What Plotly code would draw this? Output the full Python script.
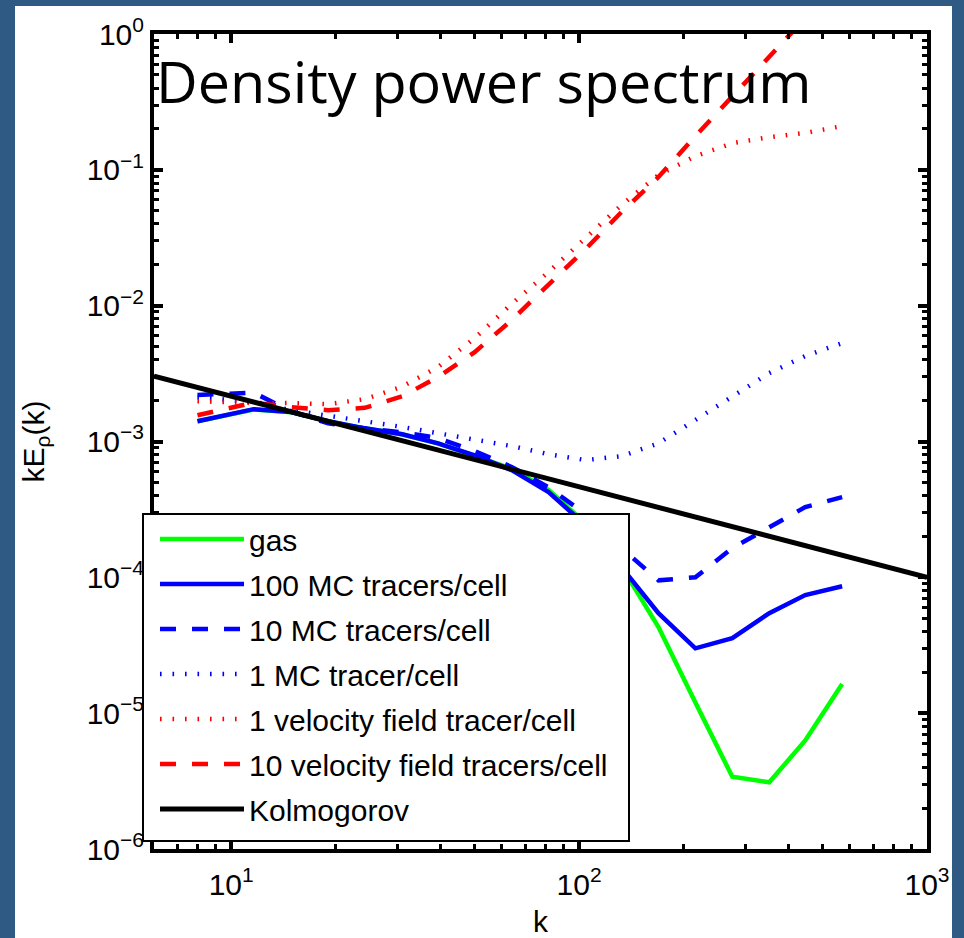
import plotly.graph_objects as go

# ---------------- data ----------------
k = [8.0, 11.6, 14.9, 19.0, 24.2, 31.0, 39.3, 50.1, 64.0, 81.7, 104.4,
     132.4, 169.1, 215.9, 275.7, 352.1, 446.7, 570.3]

gas = [1.41e-3, 1.72e-3, 1.64e-3, 1.41e-3, 1.25e-3, 1.13e-3, 9.7e-4, 7.9e-4,
       6.3e-4, 4.4e-4, 2.5e-4, 1.2e-4, 4.3e-5, 1.2e-5, 3.4e-6, 3.1e-6,
       6.3e-6, 1.64e-5]

mc100 = [1.41e-3, 1.73e-3, 1.65e-3, 1.41e-3, 1.25e-3, 1.13e-3, 9.7e-4, 7.9e-4,
         6.15e-4, 4.24e-4, 2.42e-4, 1.19e-4, 5.45e-5, 3.0e-5, 3.57e-5, 5.45e-5,
         7.4e-5, 8.6e-5]

mc10 = [2.2e-3, 2.29e-3, 1.66e-3, 1.36e-3, 1.25e-3, 1.17e-3, 1.06e-3, 8.5e-4,
        6.5e-4, 4.6e-4, 2.92e-4, 1.64e-4, 9.5e-5, 1.0e-4, 1.64e-4, 2.34e-4,
        3.29e-4, 3.9e-4]

mc1 = [2.12e-3, 1.95e-3, 1.70e-3, 1.56e-3, 1.41e-3, 1.28e-3, 1.15e-3, 1.04e-3,
       9.25e-4, 8.07e-4, 7.3e-4, 7.8e-4, 9.7e-4, 1.44e-3, 2.16e-3, 3.19e-3,
       4.26e-3, 5.3e-3]

vel1 = [1.98e-3, 1.92e-3, 1.92e-3, 1.88e-3, 2.05e-3, 2.54e-3, 3.53e-3, 5.77e-3,
        1.03e-2, 1.77e-2, 3.15e-2, 5.51e-2, 9.16e-2, 0.126, 0.157, 0.174,
        0.187, 0.210]

vel10 = [1.56e-3, 1.93e-3, 1.79e-3, 1.70e-3, 1.77e-3, 2.15e-3, 2.98e-3, 4.55e-3,
         7.83e-3, 1.42e-2, 2.61e-2, 4.89e-2, 8.85e-2, 0.177, 0.344, 0.677,
         1.31, None]

k_kolmogorov = [6.0, 1000.0]
E_kolmogorov = [3.03e-3, 1.0e-4]

series_names = ["gas", "100 MC tracers/cell", "10 MC tracers/cell",
                "1 MC tracer/cell", "1 velocity field tracer/cell",
                "10 velocity field tracers/cell", "Kolmogorov"]

x_tickvals = [10, 100, 1000]
x_ticktext = ["10<sup>1</sup>", "10<sup>2</sup>", "10<sup>3</sup>"]
y_tickvals = [1e-6, 1e-5, 1e-4, 1e-3, 1e-2, 1e-1, 1]
y_ticktext = ["10<sup>\u22126</sup>", "10<sup>\u22125</sup>", "10<sup>\u22124</sup>",
              "10<sup>\u22123</sup>", "10<sup>\u22122</sup>", "10<sup>\u22121</sup>",
              "10<sup>0</sup>"]

title_text = "Density power spectrum"

# ---------------- styling ----------------
GREEN = "#00FF00"
BLUE = "#0000FF"
RED = "#FF0000"
BG_BLUE = "#2F5A83"
DASH = "16px,16px"
DOT = "1.6px,10.9px"
FONT = "Liberation Sans, Arial, Helvetica, sans-serif"
FS = 30

styles = [
    dict(color=GREEN, width=4.5, dash="solid"),
    dict(color=BLUE, width=4.5, dash="solid"),
    dict(color=BLUE, width=4.5, dash=DASH),
    dict(color=BLUE, width=4.5, dash=DOT),
    dict(color=RED, width=4.5, dash=DOT),
    dict(color=RED, width=4.5, dash=DASH),
    dict(color="black", width=5, dash="solid"),
]
ys = [gas, mc100, mc10, mc1, vel1, vel10]

fig = go.Figure()
for i, (name, y) in enumerate(zip(series_names[:-1], ys)):
    fig.add_trace(go.Scatter(x=k, y=y, mode="lines", name=name,
                             line=styles[i], legendgroup=f"g{i}",
                             connectgaps=False))
fig.add_trace(go.Scatter(x=k_kolmogorov, y=E_kolmogorov, mode="lines",
                         name=series_names[-1], line=styles[-1],
                         legendgroup="g6"))

# plot-area geometry (px)
L, R, T, B = 154, 37, 34, 89
W, H = 964, 938
pw, ph = W - L - R, H - T - B


def px(xp):
    return (xp - L) / pw


def py(yp):
    return (H - B - yp) / ph


minor_x = [m * 10 ** e for e in range(0, 3) for m in range(2, 10)]
minor_y = [m * 10.0 ** e for e in range(-6, 0) for m in range(2, 10)]

axis_common = dict(
    type="log", showgrid=False, zeroline=False, showline=True,
    linecolor="black", linewidth=4, mirror="ticks", ticks="inside",
    ticklen=9, tickwidth=4, tickcolor="black",
    tickfont=dict(family=FONT, size=FS, color="black"),
    tickmode="array",
)

fig.update_xaxes(**axis_common, range=[0.77815, 3.0], tickvals=x_tickvals,
                 ticktext=x_ticktext, ticklabelstandoff=6,
                 minor=dict(tickmode="array", tickvals=minor_x, ticks="inside",
                            ticklen=5, tickwidth=3, tickcolor="black",
                            showgrid=False),
                 title=dict(text="k", font=dict(family=FONT, size=FS, color="black"),
                            standoff=14))
fig.update_yaxes(**axis_common, range=[-6, 0], tickvals=y_tickvals,
                 ticktext=y_ticktext,
                 minor=dict(tickmode="array", tickvals=minor_y, ticks="inside",
                            ticklen=5, tickwidth=3, tickcolor="black",
                            showgrid=False),
                 title=dict(text="kE<sub>\u03c1</sub>(k)",
                            font=dict(family=FONT, size=FS, color="black"),
                            standoff=34))

shapes = [
    # white slide panel
    dict(type="rect", xref="paper", yref="paper", x0=px(15), x1=px(952),
         y0=py(960), y1=py(6), fillcolor="white", line=dict(width=0),
         layer="below"),
    # legend box
    dict(type="rect", xref="paper", yref="paper", x0=px(143), x1=px(629),
         y0=py(841), y1=py(514), fillcolor="white",
         line=dict(color="black", width=2), layer="above"),
]

fig.update_layout(
    width=W, height=H,
    margin=dict(l=L, r=R, t=T, b=B, autoexpand=False),
    paper_bgcolor=BG_BLUE, plot_bgcolor="white",
    shapes=shapes,
    showlegend=True,
    legend=dict(x=px(155), y=py(513), xanchor="left", yanchor="top",
                bgcolor="rgba(0,0,0,0)", borderwidth=0,
                font=dict(family=FONT, size=FS, color="black"),
                itemwidth=84, traceorder="grouped", tracegroupgap=3),
    annotations=[dict(text=title_text, xref="paper", yref="paper",
                      x=px(154), y=py(40), xanchor="left", yanchor="top",
                      showarrow=False,
                      font=dict(family="Open Sans", size=57.5, color="black"))],
)

fig.write_html("out.html", config={"displayModeBar": False},
               post_script="document.body.style.margin='0';")
